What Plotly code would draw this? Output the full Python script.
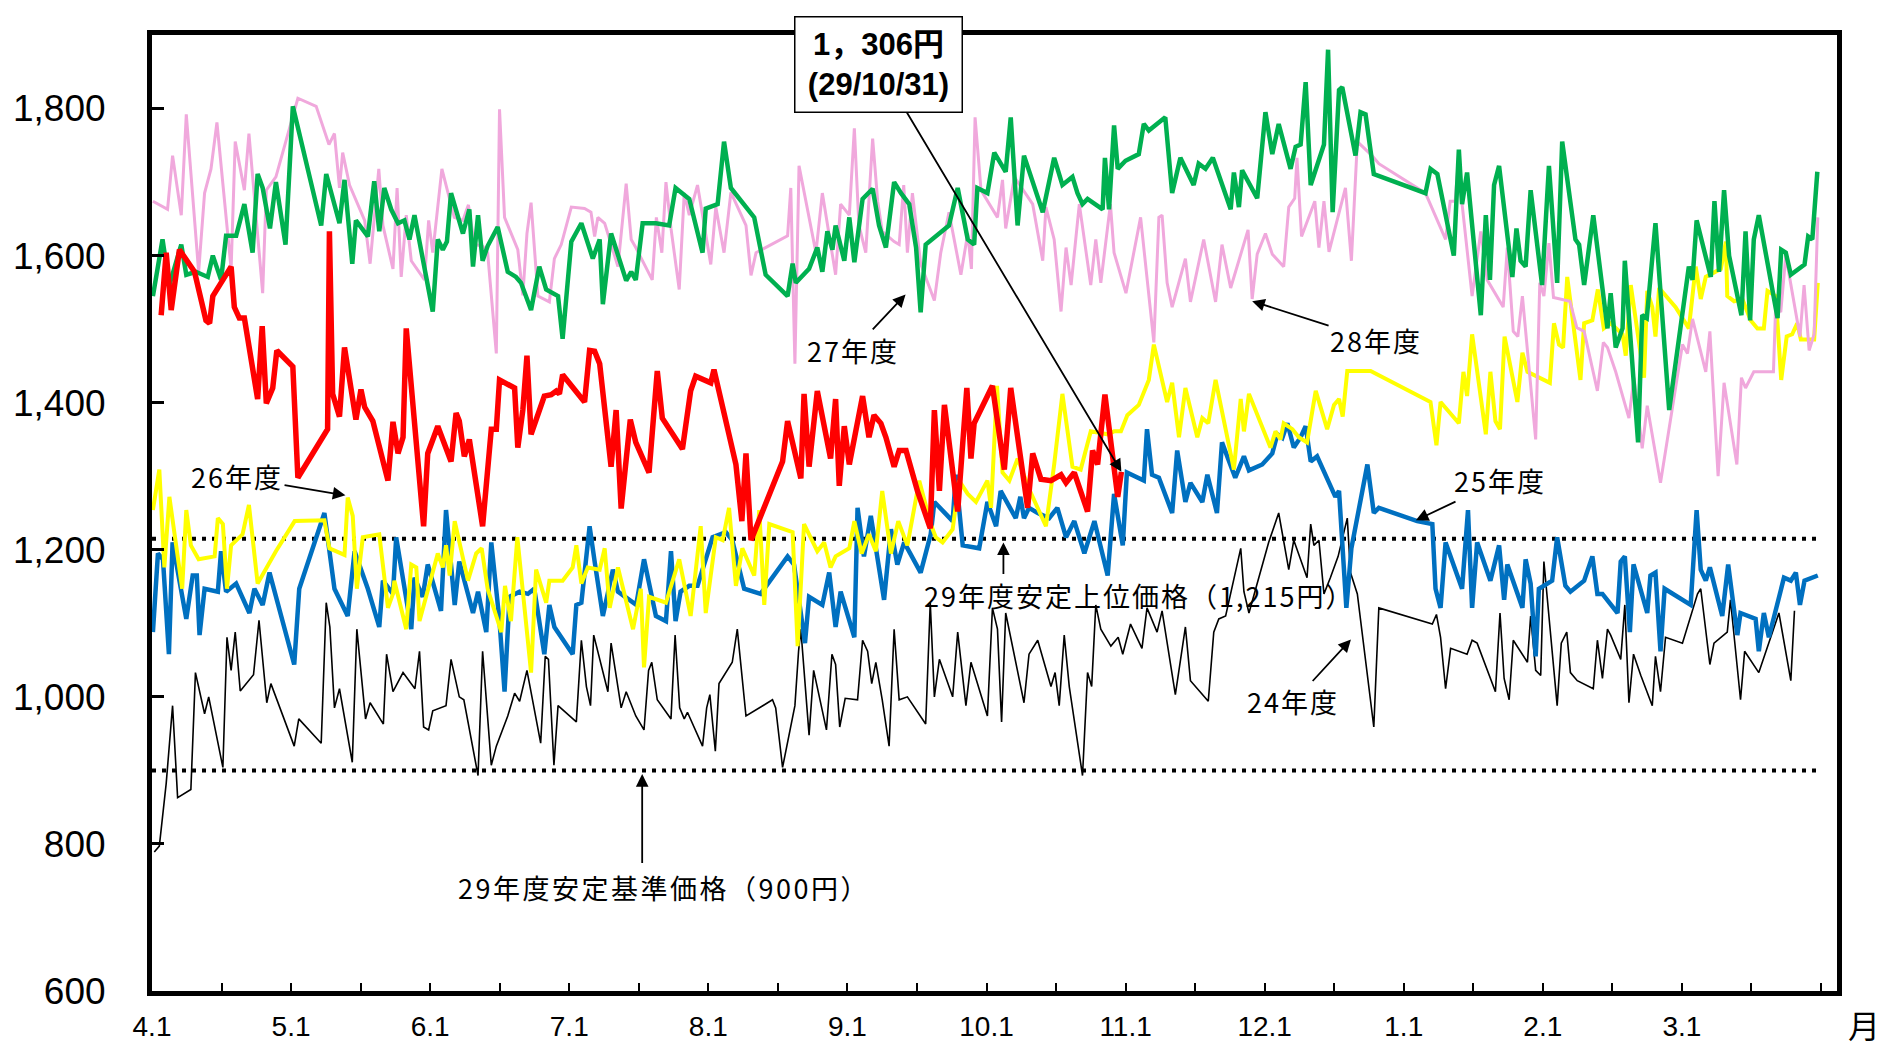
import plotly.graph_objects as go

# ---------------- data (x = days since April 1 of the fiscal year, y = price in yen) ----------------
d29 = [2.0, 3.1, 4.2, 6.0, 9.3, 11.8, 12.6, 13.3, 17.3, 18.0, 19.1, 20.2, 23.1, 24.1, 25.0, 26.4, 27.3, 30.8, 31.9, 38.4,
       38.8, 39.5, 41.0, 42.1, 44.6, 45.7, 46.5, 48.3, 51.6, 52.7, 53.8, 54.9, 55.6, 59.4, 60.3, 62.5, 65.4, 66.5, 67.2, 68.3,
       69.4, 72.3, 74.2, 75.3, 76.0, 79.3, 80.0, 81.1, 82.0, 82.9, 85.8, 87.3, 88.4, 89.1, 89.8, 94.6, 95.7, 96.8, 97.9, 100.4,
       101.5, 102.6, 104.6, 105.8, 108.7, 110.5, 111.6, 116.0, 117.8, 118.9, 122.2, 122.9, 127.7, 129.0, 129.9, 131.0, 137.9, 139.0, 141.9, 142.6,
       143.7, 145.5, 148.4, 149.5, 150.3, 151.4, 152.5, 155.4, 156.8, 157.9, 159.4, 160.5, 162.3, 163.4, 164.9, 167.4, 170.2, 171.1, 172.2, 173.3,
       176.2, 178.2, 179.1, 179.8, 183.8, 186.4, 187.8, 191.5, 192.6, 194.4, 196.6, 198.8, 199.9, 201.7, 204.6, 205.7, 206.8, 208.4, 209.7, 211.2, 212.0]
p29 = [1519, 1604, 1526, 1608, 1578, 1512, 1508, 1545, 1585, 1530, 1515, 1515, 1405, 1504, 1399, 1420, 1471, 1449, 1298, 1364,
       1633, 1412, 1381, 1475, 1377, 1418, 1394, 1375, 1294, 1374, 1331, 1353, 1501, 1232, 1331, 1368, 1320, 1386, 1375, 1327,
       1350, 1232, 1364, 1364, 1431, 1420, 1339, 1390, 1464, 1357, 1409, 1411, 1416, 1412, 1438, 1401, 1471, 1470, 1453, 1313,
       1390, 1256, 1377, 1346, 1305, 1443, 1379, 1337, 1416, 1436, 1427, 1445, 1316, 1239, 1331, 1213, 1320, 1375, 1297, 1412,
       1313, 1416, 1324, 1405, 1287, 1368, 1316, 1409, 1353, 1383, 1372, 1353, 1313, 1335, 1335, 1280, 1229, 1390, 1280, 1397,
       1252, 1420, 1324, 1372, 1423, 1309, 1420, 1257, 1331, 1296, 1294, 1302, 1291, 1305, 1252, 1335, 1316, 1411, 1346, 1272, 1306]

d27 = [0.2, 2.3, 3.8, 6.4, 7.5, 9.6, 12.2, 13.3, 15.1, 16.2, 18.4, 20.2, 22.0, 23.1, 24.2, 25.8, 27.1, 29.2, 30.8, 37.0,
       38.1, 41.0, 42.1, 43.8, 44.6, 47.2, 48.6, 49.7, 50.8, 52.3, 53.8, 55.2, 56.3, 57.4, 61.4, 62.5, 63.6, 64.5, 65.4, 68.0,
       69.4, 70.2, 71.3, 72.3, 73.4, 75.6, 77.8, 79.6, 80.7, 82.9, 84.7, 86.2, 88.8, 89.8, 91.7, 93.9, 96.4, 97.9, 98.6, 100.4,
       103.7, 104.8, 105.8, 107.3, 110.2, 113.1, 114.5, 117.5, 120.4, 121.1, 123.7, 125.1, 126.6, 131.7, 134.2, 139.0, 140.1, 140.8, 143.7, 145.5,
       146.6, 147.7, 148.8, 149.5, 151.4, 152.5, 153.6, 155.4, 157.6, 159.0, 160.5, 162.3, 163.8, 165.6, 167.1, 168.1, 169.2, 174.3, 176.2, 178.4,
       179.8, 180.5, 182.7, 184.2, 186.7, 187.8, 189.3, 190.7, 194.8, 195.9, 197.3, 199.1, 201.3, 202.4, 203.5, 204.6, 207.9, 208.4, 209.3, 210.4,
       211.2, 212.9, 215.8, 216.9, 218.0, 221.6, 223.1, 224.9, 227.8, 228.9, 230.4, 232.0, 235.9, 236.6, 237.7, 238.4, 241.7, 243.5, 245.0, 246.4,
       249.0, 250.1, 251.2, 252.3, 253.4, 256.3, 257.2, 258.2, 259.6, 260.3, 263.2, 264.3, 265.4, 267.2, 278.5, 279.6, 281.1, 284.7, 285.8, 286.5,
       287.6, 290.6, 291.7, 292.6, 293.5, 294.6, 297.5, 298.4, 299.3, 300.4, 301.5, 304.0, 305.5, 307.3, 308.4, 311.3, 312.1, 313.2, 315.2, 318.3,
       319.0, 320.1, 321.6, 322.1, 325.0, 325.9, 326.9, 328.8, 331.8, 336.1, 336.9, 337.8, 340.9, 341.7, 342.7, 343.8, 344.9, 347.6, 348.5, 349.5,
       350.3, 351.4, 355.5, 356.3, 357.3, 358.4, 361.4, 362.2, 363.1, 364.2]
p27 = [1545, 1622, 1560, 1615, 1574, 1578, 1571, 1600, 1567, 1627, 1627, 1670, 1604, 1711, 1692, 1637, 1700, 1615, 1803, 1641,
       1711, 1644, 1703, 1589, 1648, 1626, 1701, 1633, 1692, 1663, 1644, 1648, 1622, 1655, 1524, 1622, 1608, 1619, 1685, 1630,
       1663, 1585, 1655, 1593, 1613, 1639, 1578, 1571, 1563, 1526, 1585, 1554, 1545, 1487, 1619, 1644, 1596, 1622, 1534, 1630,
       1566, 1578, 1567, 1644, 1644, 1641, 1692, 1677, 1604, 1664, 1670, 1755, 1692, 1652, 1574, 1545, 1589, 1563, 1582, 1611,
       1578, 1633, 1608, 1641, 1593, 1652, 1591, 1677, 1691, 1641, 1611, 1700, 1685, 1670, 1611, 1523, 1615, 1641, 1692, 1622,
       1615, 1692, 1685, 1740, 1714, 1788, 1641, 1736, 1659, 1692, 1733, 1696, 1707, 1685, 1670, 1677, 1663, 1733, 1663, 1777,
       1718, 1729, 1738, 1779, 1770, 1788, 1685, 1733, 1696, 1725, 1718, 1733, 1663, 1713, 1666, 1716, 1678, 1795, 1738, 1779,
       1718, 1748, 1751, 1836, 1696, 1751, 1880, 1659, 1825, 1829, 1736, 1795, 1792, 1711, 1685, 1718, 1711, 1600, 1744, 1670,
       1713, 1519, 1655, 1567, 1696, 1722, 1571, 1637, 1593, 1585, 1689, 1560, 1722, 1563, 1755, 1622, 1615, 1560, 1655, 1501,
       1549, 1475, 1501, 1593, 1346, 1519, 1515, 1644, 1390, 1585, 1567, 1648, 1571, 1674, 1578, 1689, 1600, 1519, 1633, 1512,
       1622, 1655, 1515, 1608, 1604, 1574, 1588, 1626, 1622, 1714]

d28 = [0.2, 3.4, 4.5, 6.4, 7.5, 10.2, 11.5, 12.9, 14.2, 17.3, 18.2, 20.2, 21.2, 24.2, 25.0, 27.1, 31.9, 35.9, 38.7, 39.9,
       41.0, 41.7, 43.2, 46.5, 47.7, 49.6, 50.5, 52.7, 53.6, 54.5, 55.6, 56.7, 59.6, 60.5, 61.4, 63.4, 66.1, 68.0, 69.2, 70.5,
       72.3, 73.4, 75.3, 76.0, 77.1, 80.0, 81.1, 82.0, 82.9, 84.4, 86.9, 88.0, 89.5, 91.7, 94.6, 96.0, 96.8, 97.5, 99.0, 101.9,
       103.7, 104.8, 105.8, 109.4, 110.3, 111.5, 112.4, 113.5, 115.3, 116.4, 117.5, 119.3, 122.2, 123.3, 125.1, 126.6, 129.9, 131.0, 132.1, 139.0,
       139.7, 140.6, 141.5, 145.2, 146.6, 149.5, 150.6, 152.5, 153.6, 154.6, 156.1, 157.6, 158.7, 159.7, 162.3, 163.4, 164.4, 165.2, 166.3, 168.1,
       171.1, 172.5, 174.3, 176.9, 178.4, 179.2, 180.0, 181.3, 184.9, 186.0, 186.7, 188.6, 192.6, 194.8, 195.5, 197.3, 198.8, 199.9, 201.0, 202.8,
       205.3, 206.4, 207.5, 209.6, 210.4, 213.0, 216.2, 219.1, 220.2, 220.9, 222.0, 223.1, 226.0, 227.1, 230.0, 232.6, 234.0, 235.9, 239.7, 240.6,
       241.7, 243.5, 245.0, 247.5, 248.6, 249.9, 250.4, 251.4, 254.3, 255.2, 256.3, 257.4, 261.0, 262.3, 263.6, 266.8, 268.3, 278.5, 282.9, 283.9,
       285.0, 285.6, 288.7, 290.6, 292.0, 295.5, 296.4, 297.7, 298.7, 299.7, 302.6, 303.5, 304.4, 305.5, 306.5, 310.1, 311.6, 313.2, 316.1, 317.4,
       318.3, 320.1, 323.0, 324.1, 325.9, 327.0, 329.9, 334.7, 335.8, 336.9, 339.8, 340.7, 342.5, 343.8, 346.6, 347.6, 348.5, 350.3, 354.6, 355.1,
       356.2, 357.3, 360.4, 361.3, 362.4, 363.5, 364.3]
p28 = [1674, 1663, 1736, 1655, 1792, 1578, 1685, 1718, 1781, 1582, 1755, 1689, 1766, 1549, 1689, 1707, 1814, 1803, 1751, 1766,
       1692, 1740, 1696, 1648, 1589, 1718, 1641, 1582, 1692, 1571, 1655, 1593, 1567, 1648, 1604, 1718, 1652, 1648, 1669, 1615,
       1613, 1604, 1467, 1799, 1652, 1608, 1546, 1630, 1672, 1545, 1537, 1596, 1615, 1666, 1664, 1659, 1626, 1652, 1644, 1585,
       1698, 1622, 1611, 1567, 1652, 1604, 1700, 1637, 1554, 1685, 1655, 1696, 1588, 1666, 1604, 1686, 1641, 1573, 1604, 1627,
       1692, 1453, 1722, 1604, 1685, 1574, 1670, 1655, 1773, 1641, 1604, 1759, 1674, 1633, 1619, 1615, 1696, 1604, 1685, 1589,
       1539, 1604, 1659, 1574, 1630, 1582, 1788, 1689, 1652, 1703, 1637, 1707, 1670, 1593, 1666, 1622, 1524, 1611, 1560, 1670,
       1560, 1622, 1563, 1670, 1604, 1549, 1652, 1482, 1652, 1655, 1563, 1530, 1596, 1537, 1622, 1537, 1615, 1556, 1635, 1541,
       1602, 1630, 1602, 1585, 1666, 1678, 1733, 1626, 1674, 1611, 1674, 1605, 1692, 1593, 1755, 1736, 1725, 1685, 1622, 1674,
       1674, 1722, 1545, 1633, 1567, 1530, 1611, 1497, 1490, 1545, 1350, 1563, 1545, 1617, 1543, 1538, 1502, 1497, 1416, 1482,
       1475, 1442, 1379, 1434, 1338, 1396, 1291, 1479, 1467, 1514, 1442, 1497, 1300, 1427, 1316, 1434, 1420, 1442, 1442, 1534,
       1523, 1600, 1490, 1560, 1471, 1493, 1652]

d26 = [0.2, 1.6, 2.7, 3.8, 6.6, 7.5, 8.5, 10.2, 13.7, 14.4, 15.5, 16.4, 17.3, 19.8, 21.2, 23.1, 27.1, 31.2, 37.7, 38.8,
       42.1, 42.8, 43.9, 44.8, 46.1, 49.7, 51.6, 52.7, 53.0, 55.6, 56.7, 57.8, 58.5, 62.5, 63.6, 64.3, 65.1, 66.2, 69.1, 70.9,
       72.1, 73.4, 76.4, 77.2, 78.5, 79.9, 82.9, 84.0, 86.2, 86.9, 89.8, 92.0, 92.8, 93.9, 95.3, 97.9, 99.0, 100.1, 101.9, 105.2,
       106.9, 107.6, 108.7, 112.4, 115.3, 117.8, 120.0, 121.1, 123.3, 124.8, 126.2, 127.7, 129.1, 131.7, 132.8, 133.9, 135.0, 140.1, 141.2, 142.6,
       145.5, 147.0, 148.4, 149.5, 152.5, 153.6, 155.2, 156.8, 158.3, 159.7, 161.6, 163.2, 165.2, 167.8, 170.3, 171.4, 172.9, 175.1, 176.5, 178.4,
       180.2, 182.7, 183.5, 184.8, 186.0, 187.5, 189.3, 191.8, 195.5, 197.3, 199.1, 201.3, 203.1, 205.3, 209.0, 210.4, 211.9, 213.3, 215.8, 218.0,
       219.1, 222.0, 223.1, 224.6, 226.0, 228.6, 229.7, 231.0, 232.6, 236.6, 238.1, 238.8, 239.9, 244.6, 245.7, 246.8, 247.5, 249.4, 250.8, 252.6,
       254.5, 257.0, 258.5, 259.6, 260.4, 261.4, 266.5, 279.6, 280.9, 281.8, 285.8, 286.8, 287.6, 288.7, 291.7, 292.7, 293.8, 294.8, 295.8, 298.6,
       299.7, 300.8, 305.7, 306.6, 307.7, 308.6, 309.5, 312.4, 313.2, 315.0, 316.2, 317.5, 319.0, 321.6, 322.3, 323.4, 326.3, 327.0, 328.1, 328.8,
       329.6, 333.2, 335.4, 336.1, 337.6, 338.7, 339.8, 343.1, 344.2, 344.5, 346.0, 347.8, 349.6, 351.1, 352.5, 353.3, 355.1, 356.3, 357.5, 358.7,
       359.8, 360.6, 363.5, 364.3]
p26 = [1254, 1309, 1176, 1272, 1147, 1254, 1206, 1187, 1191, 1243, 1235, 1147, 1206, 1221, 1261, 1154, 1198, 1239, 1240, 1202,
       1193, 1271, 1246, 1147, 1217, 1221, 1121, 1140, 1158, 1092, 1180, 1176, 1103, 1195, 1176, 1206, 1165, 1239, 1158, 1195,
       1202, 1147, 1088, 1151, 1103, 1217, 1033, 1173, 1128, 1158, 1158, 1176, 1206, 1154, 1176, 1173, 1202, 1121, 1176, 1092,
       1147, 1040, 1136, 1128, 1187, 1110, 1232, 1114, 1217, 1213, 1257, 1151, 1202, 1165, 1254, 1125, 1235, 1224, 1069, 1235,
       1198, 1210, 1176, 1191, 1202, 1239, 1195, 1221, 1198, 1280, 1195, 1239, 1206, 1294, 1235, 1217, 1210, 1228, 1294, 1276,
       1265, 1294, 1257, 1423, 1305, 1294, 1324, 1283, 1232, 1316, 1412, 1313, 1309, 1361, 1357, 1361, 1361, 1383, 1397, 1431,
       1479, 1401, 1427, 1353, 1420, 1353, 1379, 1372, 1431, 1309, 1405, 1361, 1412, 1339, 1361, 1350, 1372, 1364, 1353, 1346,
       1416, 1364, 1397, 1405, 1381, 1443, 1443, 1401, 1342, 1401, 1372, 1442, 1409, 1493, 1357, 1442, 1375, 1364, 1490, 1401,
       1468, 1442, 1427, 1508, 1479, 1475, 1571, 1431, 1508, 1512, 1554, 1501, 1508, 1493, 1464, 1560, 1434, 1552, 1530, 1490,
       1556, 1530, 1508, 1501, 1585, 1541, 1571, 1582, 1619, 1545, 1538, 1541, 1512, 1501, 1501, 1552, 1545, 1431, 1490, 1493,
       1508, 1486, 1486, 1563]

d25 = [0.2, 1.3, 2.4, 3.7, 4.5, 7.5, 8.9, 9.8, 10.4, 11.5, 14.4, 15.1, 16.2, 18.4, 21.3, 22.4, 24.2, 25.7, 31.1, 32.2,
       37.7, 38.7, 39.9, 42.8, 44.3, 47.2, 49.7, 50.5, 52.7, 53.4, 56.7, 57.4, 59.2, 60.3, 63.2, 64.3, 66.2, 67.2, 70.2, 71.3,
       73.1, 74.2, 76.0, 77.1, 78.2, 80.4, 82.2, 83.6, 85.8, 86.9, 88.0, 92.0, 92.8, 93.9, 95.7, 96.8, 98.6, 100.8, 101.9, 105.9,
       107.6, 110.2, 112.4, 113.5, 114.5, 115.6, 117.5, 119.3, 122.6, 125.5, 126.9, 129.5, 133.1, 139.0, 140.4, 142.8, 143.7, 146.6, 148.1, 149.5,
       150.6, 153.6, 154.3, 155.7, 157.2, 160.1, 161.6, 163.0, 164.5, 168.1, 170.3, 171.1, 175.1, 175.8, 177.3, 180.9, 182.7, 184.6, 185.6, 188.9,
       189.9, 190.7, 191.8, 193.7, 196.2, 198.0, 199.9, 201.7, 203.9, 206.1, 209.0, 210.4, 212.3, 213.2, 216.9, 217.6, 218.7, 220.2, 223.1, 224.2,
       226.0, 227.1, 229.7, 230.8, 232.9, 234.0, 236.9, 238.8, 239.9, 242.8, 245.0, 246.1, 247.2, 248.3, 249.7, 251.2, 252.3, 253.4, 254.8, 258.8,
       259.6, 261.2, 262.3, 265.8, 267.2, 268.3, 276.7, 280.0, 280.7, 281.8, 282.9, 286.5, 287.8, 288.7, 289.8, 292.7, 294.6, 295.7, 296.4, 299.7,
       300.4, 301.5, 302.6, 303.3, 306.2, 307.3, 309.1, 310.2, 313.2, 315.0, 316.1, 317.2, 319.0, 320.5, 321.2, 322.1, 323.2, 324.0, 327.0, 327.7,
       328.8, 329.9, 330.8, 336.5, 337.8, 338.7, 339.8, 340.7, 343.4, 344.7, 346.7, 347.4, 350.7, 351.4, 352.5, 353.6, 356.9, 358.4, 359.5, 360.4,
       361.4, 364.3]
p25 = [1088, 1195, 1187, 1058, 1210, 1106, 1165, 1165, 1084, 1147, 1143, 1198, 1143, 1154, 1114, 1147, 1125, 1169, 1044, 1147,
       1250, 1198, 1147, 1110, 1198, 1147, 1095, 1158, 1140, 1217, 1092, 1162, 1136, 1180, 1117, 1254, 1125, 1184, 1114, 1143,
       1088, 1210, 1103, 1007, 1136, 1143, 1140, 1147, 1058, 1125, 1095, 1058, 1125, 1128, 1232, 1184, 1110, 1173, 1143, 1125,
       1187, 1110, 1103, 1198, 1103, 1143, 1151, 1151, 1217, 1224, 1213, 1147, 1140, 1191, 1180, 1073, 1136, 1125, 1169, 1095,
       1143, 1081, 1257, 1191, 1246, 1132, 1228, 1180, 1210, 1169, 1221, 1265, 1239, 1302, 1206, 1202, 1265, 1232, 1280, 1243,
       1272, 1243, 1257, 1250, 1243, 1257, 1217, 1239, 1195, 1239, 1165, 1276, 1206, 1305, 1294, 1364, 1302, 1298, 1250, 1335,
       1265, 1291, 1265, 1302, 1250, 1346, 1298, 1327, 1308, 1316, 1331, 1357, 1352, 1372, 1339, 1353, 1368, 1320, 1327, 1272,
       1280, 1121, 1202, 1316, 1250, 1257, 1239, 1235, 1147, 1121, 1210, 1147, 1254, 1121, 1210, 1158, 1206, 1132, 1180, 1121,
       1187, 1154, 1055, 1147, 1158, 1217, 1151, 1143, 1158, 1191, 1140, 1140, 1125, 1114, 1184, 1191, 1088, 1180, 1114, 1165,
       1169, 1062, 1147, 1125, 1254, 1173, 1158, 1176, 1110, 1180, 1084, 1114, 1106, 1062, 1114, 1081, 1162, 1158, 1169, 1125,
       1158, 1165]

d24 = [0.5, 1.6, 3.1, 4.5, 5.6, 8.5, 9.5, 11.5, 12.4, 15.5, 16.4, 17.3, 18.2, 19.3, 22.2, 23.4, 25.1, 26.0, 31.1, 32.1,
       37.0, 38.1, 38.9, 39.9, 41.0, 43.8, 44.8, 46.7, 47.7, 50.6, 51.3, 52.7, 54.9, 57.5, 58.5, 59.4, 60.5, 61.4, 64.3, 65.4,
       67.2, 68.2, 71.3, 72.3, 74.2, 75.3, 77.8, 79.3, 80.4, 82.0, 85.0, 86.0, 86.7, 87.9, 88.8, 92.8, 93.9, 95.0, 95.9, 96.6,
       99.7, 100.4, 102.6, 103.7, 105.8, 107.6, 108.6, 109.3, 110.5, 113.5, 114.4, 115.4, 116.4, 117.1, 120.4, 121.3, 122.0, 123.2, 124.0, 126.9,
       128.0, 129.9, 135.7, 136.4, 137.9, 140.6, 141.4, 141.9, 143.7, 144.7, 147.5, 148.7, 149.5, 150.4, 151.6, 154.3, 155.4, 156.5, 157.4, 158.3,
       159.7, 161.2, 162.3, 163.4, 165.2, 169.2, 170.2, 171.1, 172.2, 175.1, 176.2, 178.0, 179.1, 182.7, 183.8, 184.9, 185.8, 186.7, 190.7, 191.8,
       193.7, 196.6, 197.5, 198.4, 199.5, 200.6, 203.5, 204.6, 205.5, 206.4, 207.5, 209.7, 211.3, 212.3, 214.0, 216.5, 217.6, 219.8, 220.9, 223.8,
       226.0, 227.1, 231.0, 232.2, 233.3, 234.8, 238.1, 238.8, 239.9, 244.2, 246.4, 248.6, 249.7, 252.6, 253.4, 254.1, 255.2, 256.3, 257.7, 259.4,
       261.4, 262.1, 263.6, 267.2, 268.3, 280.0, 280.9, 281.8, 282.9, 284.0, 287.6, 288.7, 289.8, 293.8, 294.8, 295.7, 296.8, 297.7, 300.8, 301.5,
       302.6, 303.7, 304.4, 307.3, 308.2, 309.4, 310.2, 311.7, 315.2, 316.1, 317.2, 318.3, 319.0, 321.2, 322.1, 323.0, 324.0, 325.6, 328.1, 328.8,
       329.9, 331.0, 334.7, 338.0, 338.7, 339.8, 340.7, 341.6, 344.5, 345.2, 347.4, 348.3, 351.4, 355.8, 358.4, 359.2]
p24 = [789, 797, 882, 988, 863, 874, 1033, 977, 1000, 904, 1081, 1036, 1088, 1008, 1030, 1104, 992, 1018, 933, 970,
       937, 1128, 1095, 985, 1011, 911, 1092, 970, 992, 963, 1058, 1007, 1033, 1011, 1062, 959, 955, 981, 988, 1051,
       1000, 996, 893, 1062, 907, 933, 974, 1005, 994, 1036, 937, 1055, 1051, 907, 988, 966, 1077, 1014, 988, 1084,
       1007, 1073, 985, 1007, 974, 955, 1036, 1047, 996, 970, 1084, 985, 970, 979, 933, 985, 1003, 926, 1018, 1047,
       1092, 974, 996, 985, 904, 988, 1062, 1092, 948, 1036, 955, 1058, 1044, 959, 998, 996, 1077, 1062, 1018, 1047,
       996, 933, 1092, 996, 1000, 963, 1128, 1000, 1051, 1000, 1088, 988, 1047, 974, 1121, 1092, 966, 1114, 992, 1058,
       1077, 1014, 1033, 988, 1084, 1014, 893, 1033, 1014, 1125, 1092, 1069, 1081, 1058, 1099, 1066, 1121, 1088, 1117, 1003,
       1095, 1022, 994, 1088, 1106, 1110, 1202, 1143, 1114, 1210, 1250, 1173, 1213, 1162, 1235, 1206, 1213, 1140, 1162, 1191,
       1243, 1169, 1140, 959, 1121, 1099, 1112, 1081, 1011, 1066, 1058, 1077, 1073, 1007, 1114, 1025, 996, 1077, 1047, 1110,
       1036, 1029, 1184, 988, 1073, 1088, 1033, 1022, 1011, 1077, 1025, 1092, 1084, 1051, 1125, 992, 1058, 1029, 988, 1055,
       1007, 1081, 1073, 1140, 1147, 1088, 1044, 1073, 1088, 1132, 996, 1062, 1033, 1114, 1022, 1117]

upper_price = 1215          # 29年度安定上位価格
base_price = 900            # 29年度安定基準価格
year_days = 365
month_labels = ["4.1", "5.1", "6.1", "7.1", "8.1", "9.1", "10.1", "11.1", "12.1", "1.1", "2.1", "3.1"]
y_ticks = [600, 800, 1000, 1200, 1400, 1600, 1800]

# ---------------- figure ----------------
month_len = year_days / 12
fig = go.Figure()

for yv in (upper_price, base_price):
    fig.add_trace(go.Scatter(x=[0, year_days], y=[yv, yv], mode="lines",
                             line=dict(color="black", width=4, dash="4px,6px"),
                             hoverinfo="skip", showlegend=False))

series = [
    ("24年度", d24, p24, "#000000", 1.6),
    ("25年度", d25, p25, "#0070C0", 4.5),
    ("26年度", d26, p26, "#FFFF00", 4.0),
    ("28年度", d28, p28, "#F0A8DC", 3.0),
    ("27年度", d27, p27, "#00B050", 4.5),
    ("29年度", d29, p29, "#FF0000", 5.5),
]
for name, xs, ys, col, w in series:
    fig.add_trace(go.Scatter(x=xs, y=ys, mode="lines", name=name,
                             line=dict(color=col, width=w), showlegend=False))

cjk = "Noto Sans CJK JP, sans-serif"
lab_font = dict(family=cjk, size=27, color="black")
sp = "<span style='letter-spacing:2px'>{}</span>"
sp_wide = "<span style='letter-spacing:2.5px'>{}</span>"
arrow_kw = dict(showarrow=True, arrowhead=2, arrowsize=1.4, arrowwidth=1.8, arrowcolor="black",
                axref="x", ayref="y", xref="x", yref="y")

annotations = [
    dict(x=164.8, y=1547, ax=153.3, ay=1471, text=sp.format("27年度"), font=lab_font, **arrow_kw),
    dict(x=240.6, y=1538, ax=267.7, ay=1484, text=sp.format("28年度"), font=lab_font, **arrow_kw),
    dict(x=42.3, y=1274, ax=18.6, ay=1299, text=sp.format("26年度"), font=lab_font, **arrow_kw),
    dict(x=276.4, y=1240, ax=294.8, ay=1294, text=sp.format("25年度"), font=lab_font, **arrow_kw),
    dict(x=262.2, y=1078, ax=249.6, ay=993, text=sp.format("24年度"), font=lab_font, **arrow_kw),
    dict(x=186.2, y=1210, ax=186.2, ay=1165, text="", **arrow_kw),
    dict(x=215.9, y=1138, text=sp.format("29年度安定上位価格（1,215円）"), showarrow=False, font=lab_font,
         xref="x", yref="y"),
    dict(x=107.2, y=895, ax=107.2, ay=772, text="", **arrow_kw),
    dict(x=112.0, y=741, text=sp_wide.format("29年度安定基準価格（900円）"), showarrow=False, font=lab_font,
         xref="x", yref="y"),
    dict(x=d29[-1], y=p29[-1], xref="x", yref="y", ax=-243, ay=-407,
         text="<b>1，306円</b><br><b>(29/10/31)</b>",
         font=dict(family="Liberation Sans, Noto Sans CJK JP", size=31, color="black"), showarrow=True, arrowhead=2,
         arrowsize=1.4, arrowwidth=1.8, arrowcolor="black", bgcolor="white",
         bordercolor="black", borderwidth=1.5, borderpad=0, width=166, height=94),
    dict(x=1.016, y=-0.034, xref="paper", yref="paper", xanchor="center", yanchor="middle",
         text="月", showarrow=False, font=dict(family=cjk, size=32, color="black")),
]

fig.update_layout(
    width=1887, height=1051,
    margin=dict(l=152, r=50, t=35, b=60, autoexpand=False),
    paper_bgcolor="white", plot_bgcolor="white",
    showlegend=False,
    annotations=annotations,
    xaxis=dict(range=[0, 368.5], showgrid=False, zeroline=False, automargin=False,
               showline=True, linewidth=5, linecolor="black", mirror=True,
               ticks="inside", ticklen=8, tickwidth=2, tickcolor="black",
               tickvals=[i * month_len for i in range(12)], ticktext=month_labels,
               tickfont=dict(family="Liberation Sans Narrow, Arial Narrow, Liberation Sans", size=28, color="black"),
               ticklabelstandoff=6,
               minor=dict(tickvals=[i * month_len / 2 for i in range(25)], ticks="inside",
                          ticklen=8, tickwidth=2, tickcolor="black")),
    yaxis=dict(range=[600, 1900], showgrid=False, zeroline=False, automargin=False,
               showline=True, linewidth=5, linecolor="black", mirror=True,
               ticks="inside", ticklen=12, tickwidth=3, tickcolor="black",
               tickvals=y_ticks, ticktext=[f"{v:,}" for v in y_ticks],
               tickfont=dict(family="Liberation Sans, Arial", size=37, color="black"),
               ticklabelstandoff=34),
)

fig.write_html("out.html", config={"displayModeBar": False},
               post_script="document.body.style.margin='0';document.body.style.overflow='hidden';")
